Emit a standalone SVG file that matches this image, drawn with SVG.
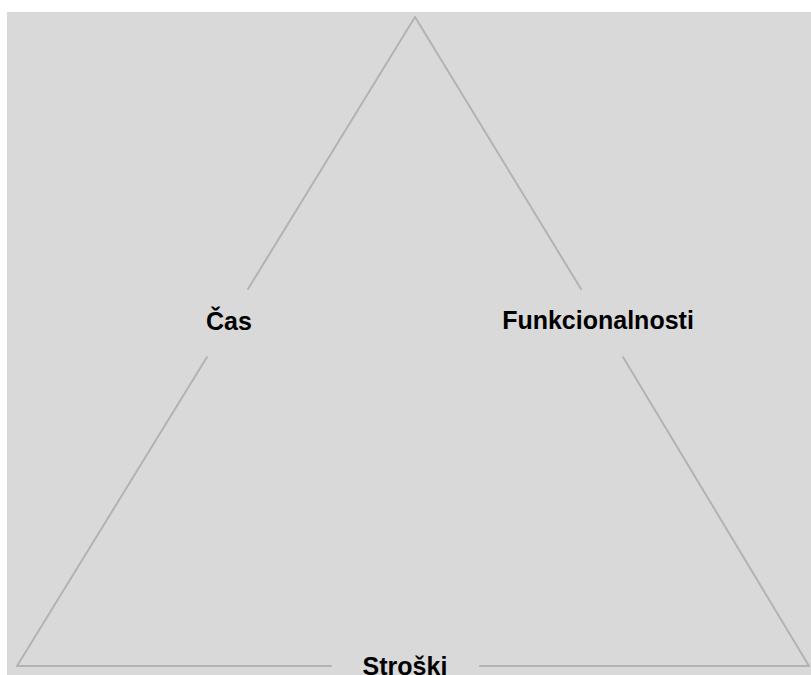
<svg xmlns="http://www.w3.org/2000/svg" width="811" height="675" viewBox="0 0 811 675">
<style>
.edge{stroke:#b3b3b3;stroke-width:2;fill:none;stroke-linecap:round}
.lbl{font-family:"Liberation Sans",Arial,sans-serif;font-weight:bold;font-size:25px;fill:#000;text-anchor:middle}
</style>
<rect x="0" y="0" width="811" height="675" fill="#ffffff"/>
<rect x="7" y="12" width="804" height="663" fill="#d9d9d9"/>
<g id="connectors">
<line class="edge" x1="415" y1="17" x2="248" y2="289"/>
<line class="edge" x1="207" y1="357" x2="17" y2="666"/>
<line class="edge" x1="415" y1="17" x2="581" y2="289"/>
<line class="edge" x1="623" y1="357" x2="809" y2="666"/>
<line class="edge" x1="17" y1="666" x2="331" y2="666"/>
<line class="edge" x1="480" y1="666" x2="809" y2="666"/>
</g>
<g id="cas"><text class="lbl" x="229" y="330">Čas</text></g>
<g id="funkcionalnosti"><text class="lbl" x="598" y="329">Funkcionalnosti</text></g>
<g id="stroski"><text class="lbl" x="405" y="675">Stroški</text></g>
</svg>
